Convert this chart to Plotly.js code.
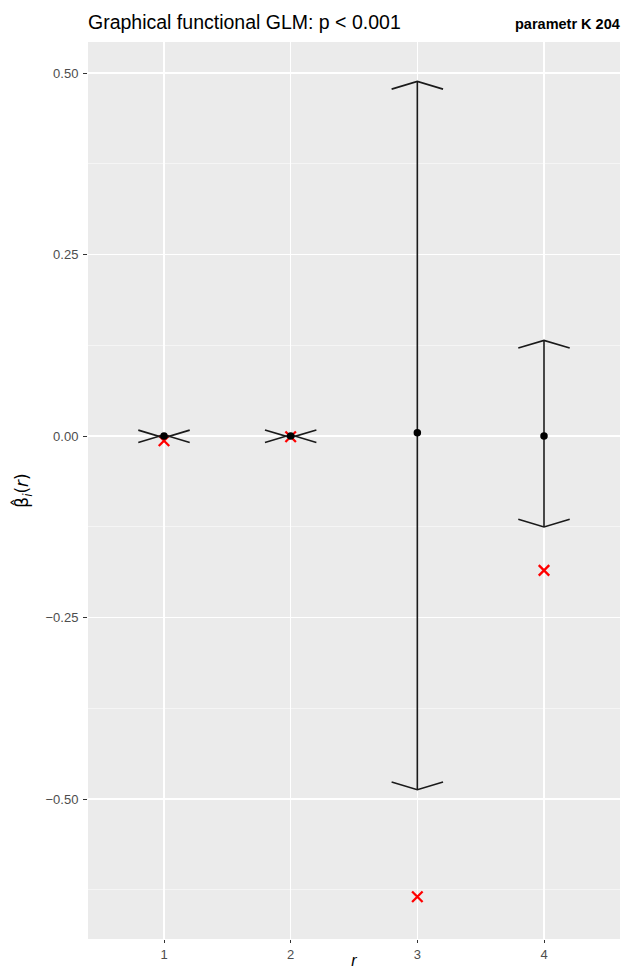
<!DOCTYPE html>
<html>
<head>
<meta charset="utf-8">
<script src="https://cdn.plot.ly/plotly-3.0.1.min.js"></script>
<style>html,body{margin:0;padding:0;background:#fff;}#chart{width:621px;height:969px;}</style>
</head>
<body>
<div id="chart"></div>
<script>
// ---- data ----
const categories = [1, 2, 3, 4];
const categoryLabels = ["1", "2", "3", "4"];
const estimate = [0.0, 0.0, 0.0045, 0.0];
const lowerBound = [-0.0025, -0.0022, -0.4872, -0.1253];
const upperBound = [0.0017, 0.0018, 0.4884, 0.1317];
const referenceValue = [-0.0065, -0.001, -0.6346, -0.185];
const yTickVals = [-0.5, -0.25, 0, 0.25, 0.5];
const yTickText = ["\u22120.50", "\u22120.25", "0.00", "0.25", "0.50"];
const yMinorVals = [-0.625, -0.375, -0.125, 0.125, 0.375];

// ---- styling constants ----
const CAP_DX = 0.203;   // half width of arrow head (category units)
const CAP_DY = 0.0106;  // drop of arrow head (data units)
const FONT = '"Liberation Sans", Arial, sans-serif';

// build interval lines with angled arrow-head caps
const lx = [], ly = [];
categories.forEach((x, i) => {
  const lo = lowerBound[i], up = upperBound[i];
  lx.push(x, x, null); ly.push(lo, up, null);
  lx.push(x - CAP_DX, x, x + CAP_DX, null); ly.push(up - CAP_DY, up, up - CAP_DY, null);
  lx.push(x - CAP_DX, x, x + CAP_DX, null); ly.push(lo + CAP_DY, lo, lo + CAP_DY, null);
});

const traces = [
  {
    x: categories, y: referenceValue, type: 'scatter', mode: 'markers',
    marker: {symbol: 'x-thin-open', size: 10.5, color: '#ff0000', line: {color: '#ff0000', width: 2.3}},
    hoverinfo: 'skip', showlegend: false, cliponaxis: false
  },
  {
    x: lx, y: ly, type: 'scatter', mode: 'lines',
    line: {color: '#1a1a1a', width: 1.6},
    hoverinfo: 'skip', showlegend: false
  },
  {
    x: categories, y: estimate, type: 'scatter', mode: 'markers',
    marker: {color: '#000000', size: 7.5},
    showlegend: false
  }
];

const layout = {
  width: 621, height: 969,
  margin: {l: 88, r: 1, t: 42, b: 30},
  paper_bgcolor: '#ffffff', plot_bgcolor: '#EBEBEB',
  font: {family: FONT, color: '#000000'},
  title: {
    text: 'Graphical functional GLM: p &lt; 0.001',
    font: {family: FONT, size: 19.5, color: '#000000'},
    xref: 'paper', x: 0, xanchor: 'left',
    yref: 'container', y: 1 - 22 / 969, yanchor: 'middle'
  },
  xaxis: {
    range: [0.4, 4.6], tickvals: categories, ticktext: categoryLabels,
    showgrid: true, gridcolor: '#ffffff', gridwidth: 1.1, zeroline: false,
    ticks: 'outside', ticklen: 3, tickwidth: 1, tickcolor: '#333333',
    tickfont: {family: FONT, size: 13, color: '#4d4d4d'},
    showline: false, fixedrange: true,
    title: {text: '<i>r</i>', font: {family: FONT, size: 16, color: '#000000'}, standoff: 2}
  },
  yaxis: {
    range: [-0.6928, 0.5427], tickvals: yTickVals, ticktext: yTickText,
    showgrid: true, gridcolor: '#ffffff', gridwidth: 1.1, zeroline: false,
    ticks: 'outside', ticklen: 4, tickwidth: 1, tickcolor: '#333333',
    tickfont: {family: FONT, size: 13, color: '#4d4d4d'},
    ticklabelstandoff: 2,
    minor: {tickvals: yMinorVals, showgrid: true, gridcolor: '#ffffff', gridwidth: 0.5, ticks: ''},
    showline: false, fixedrange: true,
    title: {text: '\u03B2\u0302<sub><i>i</i></sub>(<i>r</i>)', font: {family: '"DejaVu Sans", ' + FONT, size: 17, color: '#000000'}, standoff: 12}
  },
  annotations: [{
    text: '<b>parametr K 204</b>', xref: 'paper', yref: 'paper',
    x: 1, xanchor: 'right', xshift: 2, y: 1 + 18 / 897, yanchor: 'middle',
    showarrow: false, font: {family: FONT, size: 14.5, color: '#000000'}
  }]
};

Plotly.newPlot('chart', traces, layout, {displayModeBar: false, staticPlot: true});
</script>
</body>
</html>
